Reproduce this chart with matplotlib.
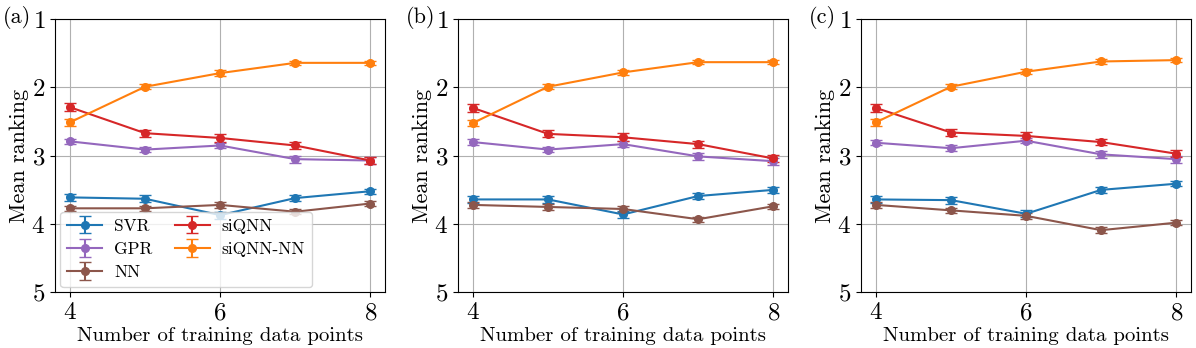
import matplotlib
matplotlib.use('Agg')
from matplotlib import pyplot as plt
import numpy as np

plt.rcParams['font.family'] = 'cmr10'
plt.rcParams['mathtext.fontset'] = 'cm'
plt.rcParams['axes.formatter.use_mathtext'] = True

n_points = [4, 5, 6, 7, 8]
panels = ['(a)', '(b)', '(c)']
methods = ['SVR', 'GPR', 'NN', 'siQNN', 'siQNN-NN']
colors = ['tab:blue', 'tab:purple', 'tab:brown', 'tab:red', 'tab:orange']

# mean ranking per panel, per method
svr = [[3.61, 3.63, 3.87, 3.62, 3.52],
       [3.64, 3.64, 3.86, 3.59, 3.50],
       [3.64, 3.65, 3.85, 3.50, 3.41]]
gpr = [[2.79, 2.91, 2.85, 3.05, 3.07],
       [2.80, 2.91, 2.83, 3.01, 3.08],
       [2.81, 2.89, 2.78, 2.98, 3.05]]
nn = [[3.77, 3.77, 3.72, 3.82, 3.70],
      [3.72, 3.75, 3.78, 3.93, 3.74],
      [3.72, 3.80, 3.88, 4.09, 3.98]]
siqnn = [[2.29, 2.67, 2.74, 2.85, 3.07],
         [2.30, 2.68, 2.73, 2.83, 3.04],
         [2.30, 2.66, 2.71, 2.80, 2.97]]
siqnn_nn = [[2.51, 1.99, 1.79, 1.64, 1.64],
            [2.52, 1.99, 1.78, 1.63, 1.63],
            [2.51, 1.99, 1.77, 1.62, 1.60]]

# error bar half-widths
svr_err = [0.05, 0.05, 0.05, 0.04, 0.04]
gpr_err = [0.04, 0.04, 0.04, 0.05, 0.05]
nn_err = [0.04, 0.04, 0.04, 0.04, 0.04]
siqnn_err = [0.06, 0.05, 0.06, 0.05, 0.05]
siqnn_nn_err = [0.05, 0.04, 0.04, 0.03, 0.03]

all_means = [svr, gpr, nn, siqnn, siqnn_nn]
all_errs = [svr_err, gpr_err, nn_err, siqnn_err, siqnn_nn_err]

fig, axes = plt.subplots(1, 3, figsize=(11.96, 3.48), dpi=100)
plt.subplots_adjust(left=0.046, right=0.996, top=0.945, bottom=0.16, wspace=0.22)

label_x = [0.002, 0.339, 0.676]
for p, ax in enumerate(axes):
    for m in range(len(methods)):
        ax.errorbar(n_points, all_means[m][p], yerr=all_errs[m], color=colors[m],
                    marker='o', markersize=5.5, capsize=4, linewidth=1.5,
                    label=methods[m])
    ax.set_ylim(5, 1)
    ax.set_xlim(3.8, 8.2)
    ax.set_xticks([4, 6, 8])
    ax.set_yticks([1, 2, 3, 4, 5])
    ax.tick_params(labelsize=18)
    ax.grid(True, color='#b0b0b0', linewidth=0.8)
    ax.set_xlabel('Number of training data points', fontsize=15, labelpad=2)
    ax.set_ylabel('Mean ranking', fontsize=16, labelpad=2)
    fig.text(label_x[p], 0.95, panels[p], fontsize=16, va='center', ha='left')

axes[0].legend(loc='lower left', ncol=2, fontsize=12.5, framealpha=0.8,
               handlelength=2.0, handletextpad=0.7, columnspacing=1.3,
               borderaxespad=0.3, labelspacing=0.45)

plt.savefig('out.png', dpi=100)
